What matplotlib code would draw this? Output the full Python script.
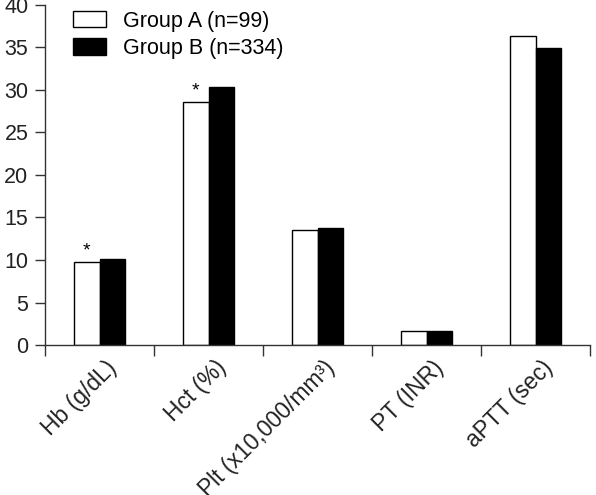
import numpy as np
import matplotlib
matplotlib.use("Agg")
import matplotlib.pyplot as plt
from matplotlib.transforms import ScaledTranslation

plt.rcParams['font.family'] = ['Liberation Sans', 'DejaVu Sans']

categories = ["Hb (g/dL)", "Hct (%)", "Plt (x10,000/mm³)", "PT (INR)", "aPTT (sec)"]
group_a = [9.8, 28.6, 13.5, 1.6, 36.4]
group_b = [10.1, 30.3, 13.8, 1.6, 34.9]
significant = [True, True, False, False, False]
labels = ["Group A (n=99)", "Group B (n=334)"]

fs = 15.5

fig = plt.figure(figsize=(5.96, 4.95), dpi=100)
ax = fig.add_axes([0.0755, 0.303, 0.915, 0.687])

x = np.arange(len(categories)) + 0.5
w = 0.235
ax.bar(x - w / 2, group_a, w, color="white", edgecolor="black", linewidth=1, label=labels[0])
ax.bar(x + w / 2, group_b, w, color="black", edgecolor="black", linewidth=1, label=labels[1])

# asterisks over group A bars
for xi, v, s in zip(x, group_a, significant):
    if s:
        ax.text(xi - w / 2, v + 0.3, "*", ha="center", va="bottom", fontsize=14)

ax.set_xlim(0, len(categories))
ax.set_ylim(0, 40)
ax.set_yticks(range(0, 41, 5))

ax.set_xticks(np.arange(len(categories) + 1))
ax.set_xticklabels([])
ax.set_xticks(x, minor=True)
ax.set_xticklabels(categories, minor=True, rotation=45, ha="right",
                   rotation_mode="anchor", fontsize=16.5, color="#222222")
ax.tick_params(axis="x", which="minor", length=0, pad=8)
off = ScaledTranslation(4 / 72, 0, fig.dpi_scale_trans)
for lab in ax.get_xticklabels(minor=True):
    lab.set_transform(lab.get_transform() + off)

ax.tick_params(axis="x", which="major", direction="out", length=8, width=1, color="#333333")
ax.tick_params(axis="y", direction="out", length=7, width=1, color="#333333",
               labelsize=fs, labelcolor="#222222", pad=5)

for side in ["top", "right"]:
    ax.spines[side].set_visible(False)
for side in ["left", "bottom"]:
    ax.spines[side].set_color("#333333")
    ax.spines[side].set_linewidth(1)

ax.legend(loc="upper left", bbox_to_anchor=(0.015, 1.04), frameon=False, fontsize=fs,
          handlelength=1.55, handleheight=0.8, handletextpad=0.8, labelspacing=0.3)

fig.savefig("out.png", dpi=100)
